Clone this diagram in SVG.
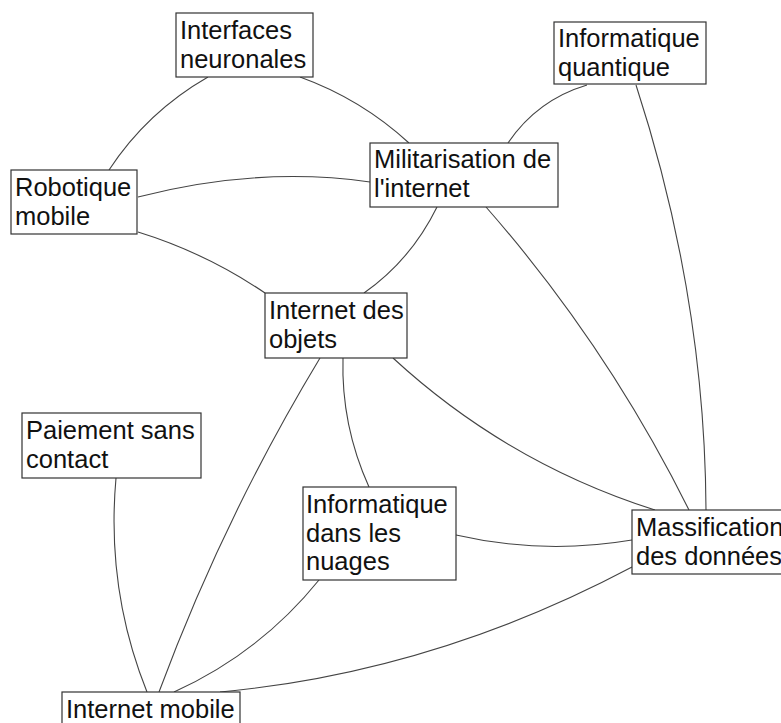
<svg xmlns="http://www.w3.org/2000/svg" width="781" height="723" viewBox="0 0 781 723">
<style>
.box{fill:#fff;stroke:#333;stroke-width:1.2}
.lbl{font-family:"Liberation Sans",Arial,sans-serif;font-size:25.5px;fill:#111}
.edge{fill:none;stroke:#444;stroke-width:1.1}
</style>
<rect width="781" height="723" fill="#fff"/>
<g id="connectors">
<path class="edge" d="M208,77 Q147,112 109,170"/>
<path class="edge" d="M300,77 Q361,99 409,143"/>
<path class="edge" d="M138,197 Q258,166 370,182"/>
<path class="edge" d="M138,232 Q206,253 265,293"/>
<path class="edge" d="M587,85 Q537,100 508,143"/>
<path class="edge" d="M636,85 Q705,297 706,510"/>
<path class="edge" d="M437,207 Q411,260 364,293"/>
<path class="edge" d="M486,207 Q607,345 689,510"/>
<path class="edge" d="M393,358 Q507,463 655,510"/>
<path class="edge" d="M343,358 Q341,425 369,487"/>
<path class="edge" d="M320,358 Q224,517 159,692"/>
<path class="edge" d="M116,478 Q106,590 147,692"/>
<path class="edge" d="M456,535 Q543,555 632,540"/>
<path class="edge" d="M319,580 Q260,653 174,692"/>
<path class="edge" d="M632,567 Q434,672 220,692"/>
</g>
<g id="n-interfaces"><rect class="box" x="176" y="13" width="137" height="64"/><text class="lbl" x="180" y="39">Interfaces<tspan x="180" dy="28.5">neuronales</tspan></text></g>
<g id="n-quantique"><rect class="box" x="554" y="22" width="152" height="62"/><text class="lbl" x="558" y="47">Informatique<tspan x="558" dy="28.5">quantique</tspan></text></g>
<g id="n-robotique"><rect class="box" x="11" y="170" width="126" height="64"/><text class="lbl" x="15" y="196">Robotique<tspan x="15" dy="28.5">mobile</tspan></text></g>
<g id="n-militarisation"><rect class="box" x="370" y="143" width="188" height="64"/><text class="lbl" x="374" y="168">Militarisation de<tspan x="374" dy="28.5">l'internet</tspan></text></g>
<g id="n-iot"><rect class="box" x="265" y="293" width="142" height="65"/><text class="lbl" x="269" y="319">Internet des<tspan x="269" dy="28.5">objets</tspan></text></g>
<g id="n-paiement"><rect class="box" x="22" y="413" width="179" height="65"/><text class="lbl" x="26" y="439">Paiement sans<tspan x="26" dy="28.5">contact</tspan></text></g>
<g id="n-nuages"><rect class="box" x="303" y="487" width="153" height="93"/><text class="lbl" x="306" y="513">Informatique<tspan x="306" dy="28.5">dans les</tspan><tspan x="306" dy="28.5">nuages</tspan></text></g>
<g id="n-massification"><rect class="box" x="632" y="510" width="170" height="64"/><text class="lbl" x="636" y="536">Massification<tspan x="636" dy="28.5">des données</tspan></text></g>
<g id="n-mobile"><rect class="box" x="62" y="692" width="178" height="64"/><text class="lbl" x="66" y="718">Internet mobile</text></g>
</svg>
